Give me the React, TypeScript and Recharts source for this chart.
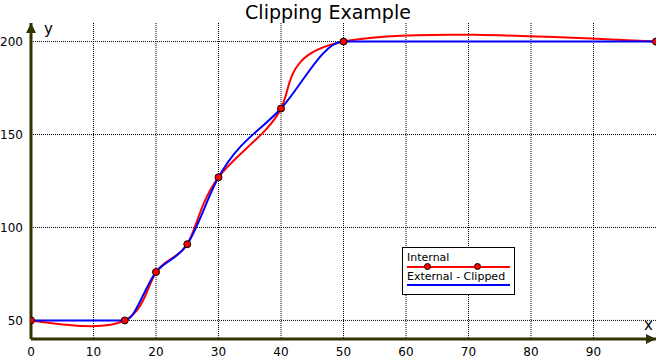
import { CartesianGrid, Line, LineChart, XAxis, YAxis } from "recharts";

const xValues = [0, 15, 20, 25, 30, 40, 50, 100];
const yValues = [50, 50, 76, 91, 127, 164, 200, 200];
const xTicks = [0, 10, 20, 30, 40, 50, 60, 70, 80, 90];
const yTicks = [50, 100, 150, 200];

const AXIS = "#333300";
const FONT = "'DejaVu Sans', Verdana, sans-serif";

const data = xValues.map((x, i) => ({ x, y: yValues[i] }));

function Marker(props: any) {
  const { cx, cy } = props;
  if (cx == null || cy == null) return null;
  return <circle cx={cx} cy={cy} r={3.5} fill="#ff0000" stroke="#000" strokeWidth={1} />;
}

const legendDot = {
  position: "absolute" as const,
  top: 15,
  width: 7,
  height: 7,
  borderRadius: 4,
  background: "#ff0000",
  border: "1px solid #000",
  boxSizing: "border-box" as const,
};

export default function App() {
  return (
    <div style={{ position: "relative", width: 656, height: 360, fontFamily: FONT, background: "#fff" }}>
      <style>{`body{margin:0}`}</style>
      <svg width={0} height={0} style={{ position: "absolute" }}>
        <defs>
          <marker
            id="arrow"
            viewBox="0 0 10 10"
            refX="10"
            refY="5"
            markerWidth="10"
            markerHeight="10"
            markerUnits="userSpaceOnUse"
            orient="auto-start-reverse"
          >
            <path d="M0,0 L10,5 L0,10 z" fill={AXIS} />
          </marker>
        </defs>
      </svg>
      <div
        style={{
          position: "absolute",
          left: 0,
          width: 656,
          top: 0,
          textAlign: "center",
          fontSize: 19,
          lineHeight: "24px",
          color: "#000",
        }}
      >
        Clipping Example
      </div>
      <LineChart width={656} height={360} data={data} margin={{ top: 23, right: 0, bottom: 0, left: 0 }}>
        <CartesianGrid stroke="#000" strokeDasharray="1 1" syncWithTicks />
        <XAxis
          dataKey="x"
          type="number"
          domain={[0, 100]}
          ticks={xTicks}
          height={21}
          tickLine={false}
          axisLine={{ stroke: AXIS, strokeWidth: 3, markerEnd: "url(#arrow)" }}
          tick={{ fill: "#000", fontSize: 12, fontFamily: FONT }}
          allowDataOverflow
        />
        <YAxis
          type="number"
          domain={[40, 210]}
          ticks={yTicks}
          width={31}
          tickLine={false}
          axisLine={{ stroke: AXIS, strokeWidth: 3, markerStart: "url(#arrow)" }}
          tick={{ fill: "#000", fontSize: 12, fontFamily: FONT }}
          allowDataOverflow
        />
        <Line
          dataKey="y"
          name="Internal"
          type="natural"
          stroke="#ff0000"
          strokeWidth={2}
          dot={false}
          isAnimationActive={false}
        />
        <Line
          dataKey="y"
          name="External - Clipped"
          type="monotone"
          stroke="#0000ff"
          strokeWidth={2}
          dot={false}
          isAnimationActive={false}
        />
        <Line
          dataKey="y"
          name="markers"
          stroke="none"
          dot={<Marker />}
          activeDot={false}
          legendType="none"
          isAnimationActive={false}
        />
      </LineChart>
      <div style={{ position: "absolute", left: 44, top: 20, fontSize: 15 }}>y</div>
      <div style={{ position: "absolute", left: 644, top: 316, fontSize: 15 }}>x</div>
      <div
        style={{
          position: "absolute",
          left: 402,
          top: 247,
          width: 111,
          height: 46,
          border: "1px solid #000",
          background: "#fff",
          fontSize: 11,
          color: "#000",
          whiteSpace: "nowrap",
        }}
      >
        <div style={{ position: "absolute", left: 4, top: 3, lineHeight: "14px" }}>Internal</div>
        <div style={{ position: "absolute", left: 4, top: 18, width: 103, height: 2, background: "#ff0000" }} />
        <div style={{ ...legendDot, left: 21 }} />
        <div style={{ ...legendDot, left: 71 }} />
        <div style={{ position: "absolute", left: 4, top: 22, lineHeight: "14px" }}>External - Clipped</div>
        <div style={{ position: "absolute", left: 4, top: 36, width: 103, height: 2, background: "#0000ff" }} />
      </div>
    </div>
  );
}
